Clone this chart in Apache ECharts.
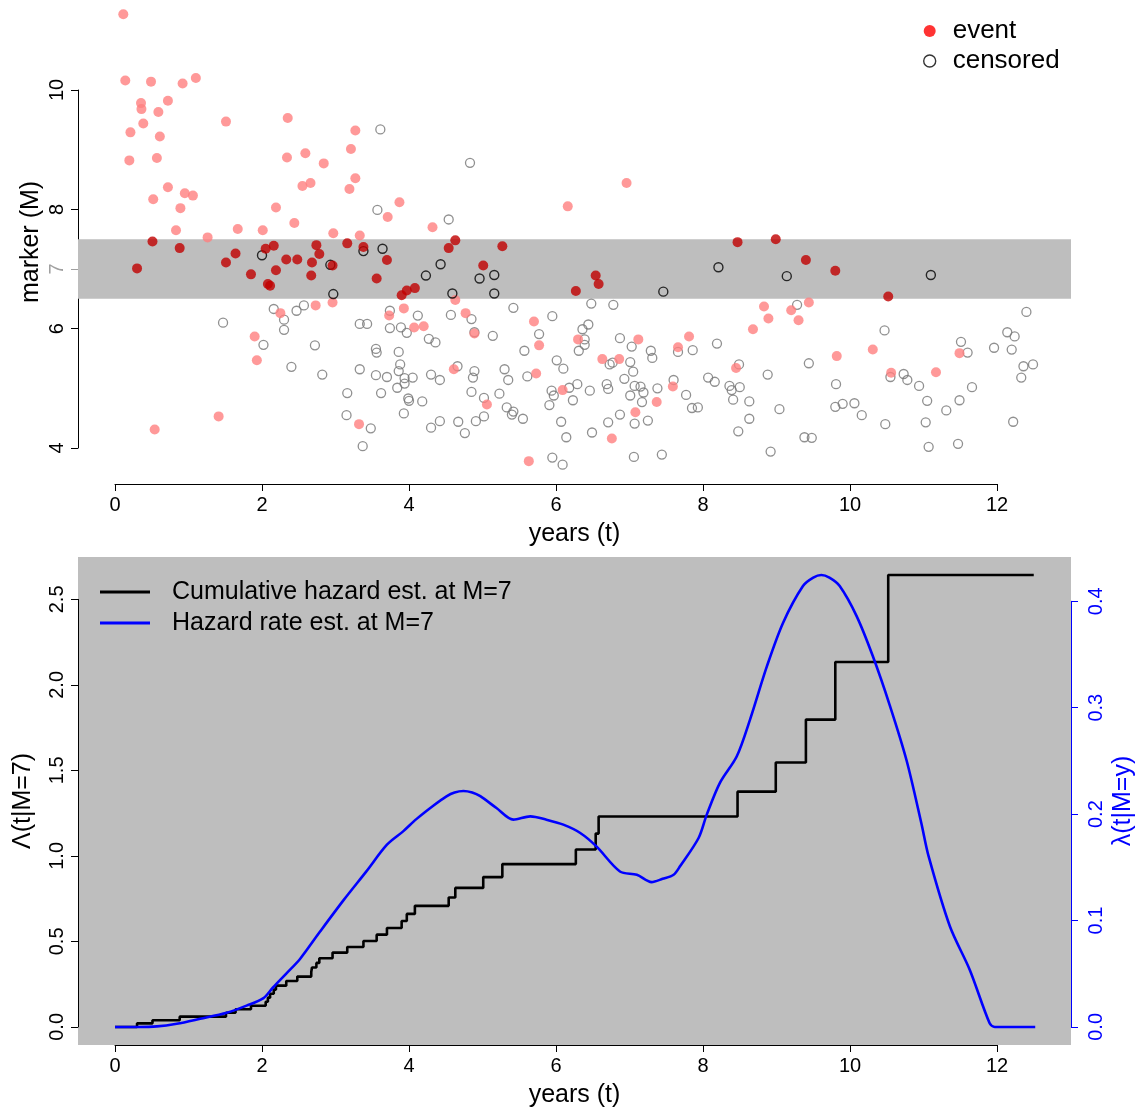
<!DOCTYPE html>
<html>
<head>
<meta charset="utf-8">
<script src="https://cdn.jsdelivr.net/npm/echarts@6/dist/echarts.min.js"></script>
<style>
  html, body { margin: 0; padding: 0; background: #ffffff; }
  #chart { width: 1136px; height: 1107px; }
</style>
</head>
<body>
<div id="chart"></div>
<script>
// ---- Subjects: follow-up time (years) and marker value, by status ----
const eventT = [
  0.113, 0.14, 0.49, 0.92, 1.10, 0.354, 0.36, 0.72, 0.59, 0.385, 1.51, 0.21, 0.61, 0.195, 0.57, 0.72, 0.52,
  0.95, 1.06, 0.89, 0.83, 1.26, 1.67, 1.90, 1.93, 1.41, 0.54,
  2.35, 3.27, 2.34, 2.59, 3.21, 2.84, 3.27, 2.55, 2.66, 3.19, 2.19, 3.87, 3.71, 2.44, 2.01, 2.97, 3.33,
  2.73, 2.96, 2.25, 3.73, 3.93, 4.07, 3.32,
  4.32, 6.16, 4.63, 4.77, 4.20, 4.89, 5.70, 5.77, 4.61, 5.73, 5.06, 6.09, 5.63,
  6.96, 6.30, 7.12, 7.81, 7.66, 6.63, 6.86, 7.59, 7.37, 7.08, 6.76,
  8.83, 9.20, 9.44, 8.89, 9.30, 8.68, 9.82, 10.31, 8.45, 11.49, 10.56, 11.17,
  0.51, 0.88, 0.30, 1.64, 1.51, 1.85,
  2.05, 2.16, 2.33, 2.48, 2.74, 2.78, 2.68, 2.19, 2.67, 2.08, 2.11, 2.96, 3.16, 3.38, 3.70, 3.56, 3.90, 3.97, 4.08,
  4.63, 4.54, 5.27, 5.01, 6.27, 6.54, 6.58, 8.47, 8.99, 9.40, 9.80, 10.52
];
const eventM = [
  11.27, 10.16, 10.14, 10.11, 10.20, 9.78, 9.68, 9.82, 9.63, 9.44, 9.47, 9.29, 9.22, 8.82, 8.86, 8.37, 8.17,
  8.27, 8.23, 8.02, 7.65, 7.53, 7.67, 5.87, 5.47, 4.53, 4.31,
  9.53, 9.32, 8.87, 8.94, 9.01, 8.77, 8.52, 8.39, 8.44, 8.34, 8.03, 8.12, 7.87, 7.77, 7.65, 7.60, 7.56,
  6.39, 6.44, 6.26, 6.22, 6.34, 6.02, 4.40,
  7.70, 8.05, 6.48, 6.26, 6.04, 5.92, 6.12, 5.72, 5.32, 5.25, 4.73, 4.97, 3.78,
  8.44, 5.82, 5.82, 5.87, 5.69, 5.49, 5.49, 5.03, 4.77, 4.60, 4.16,
  6.37, 6.31, 6.44, 6.17, 6.14, 5.99, 5.54, 5.65, 5.34, 5.59, 5.26, 5.27,
  7.46, 7.35, 7.01, 7.26, 7.11, 6.91,
  7.34, 7.39, 7.16, 7.16, 7.40, 7.25, 7.11, 6.98, 6.89, 6.75, 6.72, 7.06, 7.43, 7.37, 7.15, 6.84, 6.56, 6.64, 6.68,
  7.48, 7.35, 7.38, 7.06, 6.63, 6.89, 6.75, 7.45, 7.50, 7.15, 6.97, 6.54
];
const censT = [
  2.00, 2.93, 3.38, 3.64, 2.97, 4.43, 4.23, 4.59, 4.96, 5.16, 5.16, 7.46, 8.21, 9.14, 11.10,
  1.47,
  3.61, 3.57, 2.16, 2.57, 2.47, 2.30, 2.30, 3.74, 3.33, 3.43, 3.74, 3.89, 3.97, 2.02, 2.72, 3.55, 3.56, 3.86,
  2.40, 2.82, 3.33, 3.55, 3.70, 3.88, 3.86, 3.94, 3.94, 3.84, 4.05, 3.16, 3.62, 3.99, 4.00, 3.93, 3.15, 3.48, 3.37,
  4.83, 4.54, 5.42, 4.12, 4.57, 4.85, 5.95, 4.89, 5.14, 5.77, 4.27, 4.36, 5.57, 6.01, 6.10, 4.66, 4.89, 4.87,
  5.30, 5.35, 5.61, 4.30, 4.42, 4.85, 5.02, 5.23, 4.18, 5.33, 5.42, 5.40, 5.55, 5.94, 5.97, 5.91, 6.07, 6.14,
  4.42, 4.30, 4.67, 4.91, 5.02, 4.76, 5.95, 6.09,
  6.48, 6.78, 6.44, 6.36, 6.39, 6.39, 6.31, 6.87, 7.03, 7.29, 7.31, 7.66, 7.86, 8.19, 6.73, 6.77, 7.01, 7.05,
  6.93, 6.18, 6.29, 6.46, 6.69, 6.71, 7.07, 7.15, 7.19, 7.01, 7.17, 7.38, 7.60, 7.77, 7.85, 7.93, 8.07, 8.16,
  6.23, 6.87, 6.71, 7.07, 7.25, 6.49, 7.06, 7.44,
  9.28, 8.49, 9.44, 8.88, 9.81, 8.36, 8.39, 8.50, 8.41, 8.63, 9.04, 9.80, 9.90, 10.06, 10.16, 8.63, 8.48,
  9.38, 9.48, 8.92,
  12.40, 10.47, 11.51, 11.60, 11.96, 12.14, 12.24, 12.20, 12.36, 12.49, 12.33, 10.55, 10.73, 10.78, 10.94,
  11.66, 11.05, 11.49, 11.31, 10.48, 11.03, 12.22, 11.07, 11.47
];
const censM = [
  7.23, 7.07, 7.30, 7.34, 6.58, 7.08, 6.89, 6.59, 6.84, 6.90, 6.59, 6.62, 7.03, 6.88, 6.90,
  6.10,
  9.34, 7.99, 6.33, 6.39, 6.30, 6.15, 5.98, 6.30, 6.08, 6.08, 6.01, 6.02, 5.93, 5.73, 5.72, 5.66, 5.60, 5.61,
  5.36, 5.23, 5.32, 5.22, 5.19, 5.40, 5.29, 5.17, 5.08, 5.01, 5.18, 4.92, 4.92, 4.83, 4.79, 4.58, 4.55, 4.33, 4.03,
  8.78, 7.83, 6.35, 6.22, 6.23, 6.16, 6.21, 5.94, 5.88, 5.91, 5.83, 5.77, 5.63, 5.47, 5.33, 5.37, 5.29, 5.18,
  5.32, 5.14, 5.20, 5.23, 5.14, 4.94, 4.84, 4.91, 4.78, 4.68, 4.61, 4.56, 4.49, 4.96, 4.88, 4.72, 4.44, 4.18,
  4.45, 4.34, 4.44, 4.45, 4.53, 4.25, 3.84, 3.72,
  6.42, 6.40, 6.07, 5.99, 5.82, 5.73, 5.63, 5.84, 5.70, 5.63, 5.51, 5.61, 5.64, 5.75, 5.40, 5.43, 5.44, 5.28,
  5.16, 5.01, 5.07, 4.96, 5.07, 4.99, 5.04, 5.03, 4.93, 4.88, 4.77, 5.00, 5.14, 4.89, 4.67, 4.68, 5.18, 5.11,
  4.80, 4.56, 4.43, 4.41, 4.46, 4.26, 3.85, 3.89,
  6.40, 5.40, 5.42, 5.23, 5.07, 5.04, 4.97, 5.02, 4.81, 4.78, 4.65, 4.69, 4.74, 4.75, 4.55, 4.49, 4.28,
  4.18, 4.17, 3.94,
  6.28, 5.97, 5.78, 5.60, 5.68, 5.94, 5.87, 5.65, 5.37, 5.40, 5.18, 5.19, 5.24, 5.14, 5.04,
  5.02, 4.79, 4.80, 4.63, 4.40, 4.43, 4.44, 4.02, 4.07
];

// marker window used for the local estimate (M = 7 +/- 0.5)
const bandLow = 6.5;
const bandHigh = 7.5;

// ---- Cumulative hazard estimate at M=7 (step function) ----
const cumHazT = [0, 0.30, 0.51, 0.88, 1.51, 1.64, 1.85, 2.05, 2.08, 2.11, 2.16, 2.19, 2.33, 2.48, 2.67, 2.68,
  2.74, 2.78, 2.96, 3.16, 3.38, 3.56, 3.70, 3.90, 3.97, 4.08, 4.54, 4.63, 5.01, 5.27, 6.27, 6.54, 6.58,
  8.47, 8.99, 9.40, 9.80, 10.52, 12.5];
const cumHazV = [0, 0.021, 0.039, 0.060, 0.083, 0.103, 0.124, 0.147, 0.171, 0.194, 0.218, 0.241, 0.268, 0.294,
  0.321, 0.347, 0.374, 0.401, 0.434, 0.467, 0.502, 0.539, 0.578, 0.619, 0.660, 0.707, 0.756, 0.812, 0.875,
  0.951, 1.036, 1.129, 1.229, 1.374, 1.544, 1.795, 2.131, 2.639, 2.639];

// ---- Hazard rate estimate at M=7 ----
const hazT = [0, 0.30, 0.57, 0.84, 1.16, 1.52, 1.79, 2.02, 2.15, 2.33, 2.52, 2.79, 3.11, 3.42, 3.70, 3.92,
  4.10, 4.33, 4.51, 4.62, 4.74, 4.86, 4.97, 5.19, 5.42, 5.65, 5.87, 6.10, 6.33, 6.55, 6.87, 7.10, 7.30,
  7.45, 7.60, 7.69, 7.94, 8.05, 8.23, 8.46, 8.64, 8.87, 9.09, 9.36, 9.50, 9.61, 9.72, 9.86, 10.09, 10.31,
  10.54, 10.77, 10.97, 11.07, 11.36, 11.63, 11.90, 11.97, 12.52];
const hazV = [0, 0, 0.0005, 0.003, 0.0077, 0.0133, 0.020, 0.027, 0.037, 0.050, 0.064, 0.0895, 0.119, 0.146,
  0.171, 0.1835, 0.195, 0.2076, 0.2164, 0.2200, 0.2214, 0.2200, 0.2165, 0.2054, 0.1945, 0.1976, 0.1945,
  0.1898, 0.182, 0.1694, 0.1459, 0.1428, 0.1359, 0.139, 0.1428, 0.151, 0.1773, 0.199, 0.229, 0.254, 0.2884,
  0.3385, 0.3793, 0.4137, 0.4215, 0.4240, 0.4215, 0.4137, 0.3855, 0.348, 0.302, 0.250, 0.1914, 0.160,
  0.0942, 0.0535, 0.0034, 0, 0];

// ---- build series data ----
const inBand = m => m >= bandLow && m <= bandHigh;
function pick(ts, ms, keepInBand) {
  const out = [];
  for (let i = 0; i < ts.length; i++) {
    if (inBand(ms[i]) === keepInBand) out.push([ts[i], ms[i]]);
  }
  return out;
}
const zip = (a, b) => a.map((v, i) => [v, b[i]]);

const FONT = 'Liberation Sans, Arial, Helvetica, sans-serif';
const cumMax = Math.max(...cumHazV);
const hazMax = Math.max(...hazV);

// plot region in pixels (both panels share the same horizontal span)
const PL = 78, PW = 993;          // plot region left / width
const X0 = 115, XW = 882;         // pixel span of t = 0 .. 12
const pxPerYear = XW / 12;
const xMin = -(X0 - PL) / pxPerYear;
const xMax = xMin + PW / pxPerYear;

const black = { color: '#000', width: 1 };
const axisBase = {
  axisLine: { show: true, onZero: false, lineStyle: black },
  axisTick: { show: true, length: 7, lineStyle: black },
  splitLine: { show: false },
  axisLabel: { color: '#000', fontFamily: FONT, fontSize: 20 }
};
const titleStyle = { color: '#000', fontFamily: FONT, fontSize: 25 };
// an axis that only carries a title, centred on the plot region
const titleOnly = (extra) => Object.assign({
  type: 'value', show: true,
  axisLine: { show: false, onZero: false }, axisTick: { show: false },
  axisLabel: { show: false }, splitLine: { show: false },
  nameLocation: 'middle', nameTextStyle: titleStyle
}, extra);
const hidden = (extra) => Object.assign({
  type: 'value', show: false, axisLine: { onZero: false }, splitLine: { show: false }
}, extra);
const fixedGrid = (g) => Object.assign({ outerBoundsMode: 'none', containLabel: false }, g);

const chart = echarts.init(document.getElementById('chart'), null, { renderer: 'canvas' });

chart.setOption({
  animation: false,
  backgroundColor: '#ffffff',
  textStyle: { fontFamily: FONT },
  grid: [
    // 0: top panel plot region
    fixedGrid({ left: PL, top: 0, width: PW, height: 484 }),
    // 1: top panel axes (t 0..12, M 4..10)
    fixedGrid({ left: X0, top: 90, width: XW, height: 358 }),
    // 2: bottom panel plot region
    fixedGrid({ left: PL, top: 557, width: PW, height: 488, show: true, backgroundColor: '#bebebe', borderWidth: 0 }),
    // 3: bottom panel left axis (0..2.5) and time axis
    fixedGrid({ left: X0, top: 599.4, width: XW, height: 427.5 }),
    // 4: bottom panel right axis (0..0.4)
    fixedGrid({ left: X0, top: 601.3, width: XW, height: 425.6 })
  ],
  xAxis: [
    titleOnly({ gridIndex: 0, min: xMin, max: xMax, name: 'years (t)', nameGap: 38 }),
    Object.assign({}, axisBase, {
      gridIndex: 1, type: 'value', min: 0, max: 12, interval: 2, offset: 36,
      axisLabel: Object.assign({}, axisBase.axisLabel, { margin: 11 })
    }),
    titleOnly({ gridIndex: 2, min: xMin, max: xMax, name: 'years (t)', nameGap: 38 }),
    Object.assign({}, axisBase, {
      gridIndex: 3, type: 'value', min: 0, max: 12, interval: 2, offset: 18.1,
      axisLabel: Object.assign({}, axisBase.axisLabel, { margin: 11 })
    }),
    hidden({ gridIndex: 4, min: 0, max: 12 })
  ],
  yAxis: [
    titleOnly({ gridIndex: 0, min: 4 - 36 / 59.667, max: 4 + 448 / 59.667,
      name: 'marker (M)', nameRotate: 90, nameGap: 34 }),
    Object.assign({}, axisBase, {
      gridIndex: 1, type: 'value', min: 4, max: 10, interval: 2, offset: 37,
      axisLabel: Object.assign({}, axisBase.axisLabel, { rotate: 90, margin: 11 })
    }),
    {
      gridIndex: 1, type: 'value', min: 4, max: 10, offset: 37, position: 'left',
      axisLine: { show: false, onZero: false }, splitLine: { show: false },
      axisTick: { show: true, length: 7, customValues: [7], lineStyle: { color: '#a0a0a0' } },
      axisLabel: { show: true, customValues: [7], rotate: 90, margin: 11, color: '#a0a0a0', fontFamily: FONT, fontSize: 20 }
    },
    titleOnly({ gridIndex: 2, min: -0.04 * cumMax, max: 1.04 * cumMax,
      name: 'Λ(t|M=7)', nameRotate: 90, nameGap: 42 }),
    titleOnly({ gridIndex: 2, min: -0.04 * hazMax, max: 1.04 * hazMax, position: 'right',
      name: 'λ(t|M=y)', nameRotate: 90, nameGap: 40,
      nameTextStyle: { color: '#0000ff', fontFamily: FONT, fontSize: 25 } }),
    Object.assign({}, axisBase, {
      gridIndex: 3, type: 'value', min: 0, max: 2.5, interval: 0.5, offset: 37,
      axisLabel: Object.assign({}, axisBase.axisLabel, { rotate: 90, margin: 11, formatter: v => v.toFixed(1) })
    }),
    {
      gridIndex: 4, type: 'value', min: 0, max: 0.4, interval: 0.1, offset: 74, position: 'right',
      splitLine: { show: false },
      axisLine: { show: true, onZero: false, lineStyle: { color: '#0000ff', width: 1 } },
      axisTick: { show: true, length: 7, lineStyle: { color: '#0000ff', width: 1 } },
      axisLabel: { color: '#0000ff', fontFamily: FONT, fontSize: 20, rotate: 90, margin: 15, formatter: v => v.toFixed(1) }
    }
  ],
  legend: [
    {
      orient: 'vertical', left: 918, top: 13, itemWidth: 12, itemHeight: 12, itemGap: 4,
      selectedMode: false, icon: 'circle',
      textStyle: { fontFamily: FONT, fontSize: 26, lineHeight: 26, color: '#000', padding: [0, 0, 0, 12] },
      data: [
        { name: 'event', itemStyle: { color: '#ff0000', borderWidth: 0 } },
        { name: 'censored', itemStyle: { color: 'rgba(0,0,0,0)', borderColor: '#000', borderWidth: 1.4 } }
      ]
    },
    {
      orient: 'vertical', left: 95, top: 574, itemWidth: 50, itemHeight: 3, itemGap: 5,
      selectedMode: false, icon: 'rect',
      textStyle: { fontFamily: FONT, fontSize: 25, lineHeight: 26, color: '#000', padding: [0, 0, 0, 17] },
      data: ['Cumulative hazard est. at M=7', 'Hazard rate est. at M=7']
    }
  ],
  series: [
    {
      name: 'band', type: 'line', xAxisIndex: 0, yAxisIndex: 0, z: 1,
      data: [[xMin - 1, 7]], symbol: 'none', lineStyle: { opacity: 0 }, silent: true,
      markArea: {
        silent: true,
        itemStyle: { color: '#bebebe', borderWidth: 0 },
        data: [[{ yAxis: bandLow }, { yAxis: bandHigh }]]
      }
    },
    {
      name: 'censored', type: 'scatter', xAxisIndex: 0, yAxisIndex: 0, z: 2,
      data: pick(censT, censM, false), symbol: 'circle', symbolSize: 9,
      itemStyle: { color: 'rgba(0,0,0,0)', borderColor: '#747474', borderWidth: 1.3 }
    },
    {
      name: 'event', type: 'scatter', xAxisIndex: 0, yAxisIndex: 0, z: 3,
      data: pick(eventT, eventM, false), symbol: 'circle', symbolSize: 10,
      itemStyle: { color: '#ff8080' }
    },
    {
      name: 'censored', type: 'scatter', xAxisIndex: 0, yAxisIndex: 0, z: 4,
      data: pick(censT, censM, true), symbol: 'circle', symbolSize: 9,
      itemStyle: { color: 'rgba(0,0,0,0)', borderColor: '#000000', borderWidth: 1.4 }
    },
    {
      name: 'event', type: 'scatter', xAxisIndex: 0, yAxisIndex: 0, z: 5,
      data: pick(eventT, eventM, true), symbol: 'circle', symbolSize: 10,
      itemStyle: { color: '#c00000' }
    },
    {
      name: 'Cumulative hazard est. at M=7', type: 'line', xAxisIndex: 2, yAxisIndex: 3, z: 3,
      data: zip(cumHazT, cumHazV), step: 'end', symbol: 'none',
      lineStyle: { color: '#000000', width: 2.6 }, itemStyle: { color: '#000000' }
    },
    {
      name: 'Hazard rate est. at M=7', type: 'line', xAxisIndex: 2, yAxisIndex: 4, z: 4,
      data: zip(hazT, hazV), smooth: 0.3, symbol: 'none',
      lineStyle: { color: '#0000ff', width: 2.6 }, itemStyle: { color: '#0000ff' }
    }
  ]
});
</script>
</body>
</html>
